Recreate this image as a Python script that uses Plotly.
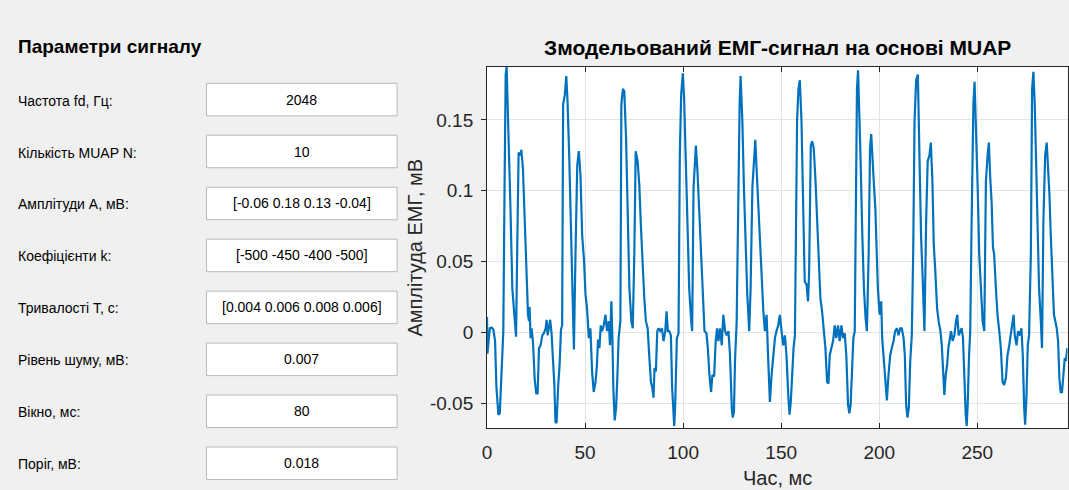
import plotly.graph_objects as go

W, H = 1069, 490

# Simulated EMG trace: time (ms) and amplitude (mV)
time_ms = [
    0.0, 0.2, 1.4, 2.4, 3.25, 4.1, 4.8, 5.8, 6.5, 7.5,
    8.3, 8.85, 9.5, 10.0, 10.9, 11.9, 12.9, 13.8, 14.8, 15.45,
    16.1, 17.0, 17.5, 18.3, 19.2, 20.0, 20.9, 21.4, 21.7, 22.2,
    22.7, 23.4, 24.3, 25.1, 25.8, 26.5, 27.3, 28.2, 29.0, 29.9,
    30.4, 30.9, 31.6, 32.2, 32.9, 33.6, 34.3, 34.9, 35.45, 36.3,
    37.0, 37.7, 38.3, 38.8, 39.7, 40.4, 41.0, 41.9, 42.7, 43.6,
    44.3, 45.1, 46.0, 46.8, 47.65, 48.5, 49.5, 50.2, 51.0, 51.9,
    52.7, 53.6, 54.4, 55.3, 56.0, 56.6, 57.3, 58.0, 58.7, 59.5,
    60.4, 61.2, 62.1, 62.7, 63.4, 63.9, 64.4, 65.1, 65.8, 66.5,
    67.1, 68.0, 68.5, 69.3, 70.0, 70.9, 71.7, 72.6, 73.6, 74.3,
    75.1, 75.8, 76.8, 77.65, 78.5, 79.3, 80.2, 81.0, 81.9, 82.7,
    83.6, 84.3, 84.9, 85.4, 86.1, 86.8, 87.5, 88.3, 89.2, 90.0,
    90.9, 91.55, 92.2, 92.9, 93.75, 94.4, 94.9, 95.45, 95.95, 96.8,
    97.65, 98.3, 99.0, 99.85, 100.5, 101.4, 102.2, 103.1, 104.1, 104.6,
    105.3, 106.5, 107.3, 108.15, 109.2, 110.0, 110.9, 111.9, 112.6, 113.4,
    114.25, 114.9, 115.8, 116.6, 117.3, 118.0, 118.8, 119.7, 120.5, 121.4,
    122.2, 123.1, 123.9, 124.8, 125.3, 125.9, 126.45, 127.3, 128.15, 128.8,
    129.3, 130.2, 131.0, 131.9, 132.7, 133.7, 134.4, 135.3, 136.1, 136.8,
    137.5, 138.3, 139.2, 140.0, 140.9, 141.7, 142.55, 143.4, 144.25, 145.1,
    145.9, 146.8, 147.6, 148.5, 149.3, 150.2, 151.0, 151.9, 152.7, 153.6,
    154.25, 154.9, 155.6, 156.3, 157.0, 157.5, 158.1, 158.8, 159.5, 160.35,
    161.2, 162.0, 162.9, 163.7, 164.25, 165.1, 165.8, 166.6, 167.5, 168.3,
    169.2, 170.0, 170.85, 171.7, 172.55, 173.4, 174.1, 174.75, 175.6, 176.45,
    177.3, 178.1, 179.0, 179.8, 180.7, 181.5, 182.4, 183.2, 184.1, 184.75,
    185.4, 186.1, 186.8, 187.5, 188.0, 188.65, 189.2, 189.8, 190.5, 191.4,
    192.2, 193.05, 193.7, 194.6, 195.3, 195.9, 196.6, 197.3, 198.0, 198.6,
    199.3, 200.2, 201.0, 201.5, 202.2, 203.05, 203.9, 204.7, 205.6, 206.4,
    207.3, 208.1, 209.0, 209.8, 210.7, 211.5, 212.4, 213.05, 213.7, 214.4,
    215.1, 215.8, 216.6, 217.3, 218.0, 218.8, 219.7, 220.5, 221.35, 222.2,
    223.05, 223.9, 224.7, 225.6, 226.3, 227.1, 227.8, 228.6, 229.5, 230.3,
    231.2, 231.9, 232.5, 233.2, 233.9, 234.6, 235.25, 235.9, 236.6, 237.45,
    238.3, 239.15, 239.8, 240.5, 241.2, 242.0, 242.7, 243.4, 244.1, 244.6,
    245.1, 245.8, 246.4, 247.1, 248.0, 248.6, 249.3, 250.2, 251.0, 251.9,
    252.7, 253.55, 254.4, 255.25, 255.9, 256.6, 257.3, 258.0, 258.6, 259.5,
    260.3, 261.2, 262.0, 262.9, 263.7, 264.6, 265.4, 266.3, 267.1, 267.95,
    268.5, 269.1, 270.0, 270.8, 271.7, 272.5, 273.2, 273.9, 274.4, 275.1,
    275.75, 276.4, 277.3, 277.95, 278.6, 279.3, 280.0, 280.7, 281.5, 282.4,
    283.0, 283.7, 284.6, 285.4, 286.1, 286.8, 287.4, 288.3, 289.1, 289.8,
    290.5, 291.2, 291.85, 292.5, 293.2, 293.9, 294.6, 295.2, 295.9,
]
emg_mv = [
    0.011, -0.015, 0.003, 0.0035, 0.002, -0.006, -0.039, -0.058, -0.057, -0.030,
    0.001, 0.090, 0.182, 0.1876, 0.149, 0.090, 0.031, 0.0125, -0.003, 0.064,
    0.127, 0.125, 0.129, 0.116, 0.078, 0.048, 0.0125, 0.008, 0.018, -0.004,
    0.003, -0.006, -0.033, -0.043, -0.043, -0.011, -0.009, -0.002, -0.0005, 0.003,
    0.009, -0.002, 0.003, 0.009, -0.0005, -0.017, -0.036, -0.063, -0.064, -0.037,
    -0.023, 0.002, 0.005, 0.161, 0.168, 0.181, 0.165, 0.125, 0.071, 0.010,
    -0.012, 0.055, 0.118, 0.128, 0.111, 0.069, 0.050, 0.027, 0.017, -0.004,
    0.003, -0.028, -0.042, -0.035, -0.024, -0.005, -0.011, 0.005, 0.001, 0.005,
    0.0125, 0.001, 0.008, -0.009, 0.022, -0.002, -0.039, -0.062, -0.053, -0.030,
    -0.004, 0.008, 0.161, 0.172, 0.170, 0.137, 0.078, 0.031, 0.008, 0.003,
    0.055, 0.128, 0.121, 0.104, 0.074, 0.045, 0.024, 0.008, 0.003, -0.016,
    -0.035, -0.039, -0.046, -0.025, -0.0275, 0.001, 0.003, 0.001, 0.003, -0.006,
    0.001, 0.015, 0.001, 0.001, -0.002, -0.039, -0.056, -0.066, -0.051, -0.004,
    -0.0005, 0.125, 0.168, 0.183, 0.165, 0.114, 0.069, 0.031, 0.008, 0.001,
    0.102, 0.132, 0.114, 0.085, 0.048, 0.022, 0.001, -0.0005, -0.011, -0.030,
    -0.042, -0.030, -0.031, -0.006, 0.003, -0.006, 0.003, -0.009, 0.0125, 0.001,
    -0.002, 0.001, -0.016, -0.053, -0.060, -0.056, -0.020, 0.008, 0.102, 0.161,
    0.181, 0.149, 0.102, 0.055, 0.027, 0.001, 0.031, 0.102, 0.125, 0.136,
    0.114, 0.090, 0.055, 0.031, 0.015, 0.001, 0.0125, -0.020, -0.049, -0.030,
    -0.016, -0.004, 0.001, 0.005, 0.0125, 0.003, -0.009, -0.002, -0.016, -0.044,
    -0.058, -0.049, -0.0275, -0.011, -0.002, 0.055, 0.149, 0.172, 0.178, 0.149,
    0.090, 0.036, 0.034, 0.022, 0.043, 0.132, 0.135, 0.130, 0.107, 0.078,
    0.048, 0.024, 0.015, 0.001, -0.011, -0.035, -0.036, -0.016, -0.011, -0.006,
    0.005, -0.004, 0.005, -0.006, 0.005, -0.004, -0.0005, -0.016, -0.051, -0.057,
    -0.051, -0.0275, -0.004, 0.001, 0.078, 0.172, 0.185, 0.161, 0.121, 0.067,
    0.031, 0.010, 0.001, 0.055, 0.130, 0.140, 0.118, 0.104, 0.088, 0.055,
    0.031, 0.0125, 0.022, -0.004, -0.016, -0.035, -0.048, -0.030, -0.016, -0.011,
    -0.006, 0.001, 0.003, -0.002, 0.003, 0.003, -0.004, -0.016, -0.051, -0.060,
    -0.053, -0.020, -0.002, 0.055, 0.149, 0.178, 0.182, 0.125, 0.067, 0.036,
    0.001, 0.078, 0.121, 0.125, 0.134, 0.107, 0.062, 0.043, 0.017, 0.008,
    0.001, -0.009, -0.0275, -0.044, -0.030, -0.023, -0.011, -0.006, 0.001, -0.006,
    -0.002, 0.008, 0.0125, -0.002, 0.001, 0.003, -0.004, -0.039, -0.058, -0.066,
    -0.051, -0.016, 0.001, 0.078, 0.161, 0.177, 0.149, 0.102, 0.055, 0.027,
    0.008, 0.001, 0.107, 0.125, 0.134, 0.109, 0.092, 0.060, 0.055, 0.031,
    0.0125, 0.001, -0.011, -0.035, -0.037, -0.032, -0.016, -0.009, -0.002, 0.008,
    0.0125, -0.002, -0.009, 0.001, -0.002, 0.003, -0.016, -0.053, -0.065, -0.044,
    -0.009, -0.002, 0.055, 0.172, 0.184, 0.161, 0.118, 0.078, 0.031, 0.008,
    -0.011, 0.078, 0.125, 0.134, 0.118, 0.097, 0.071, 0.043, 0.0125, 0.008,
    0.003, -0.006, -0.032, -0.042, -0.042, -0.030, -0.018, -0.020, -0.011,
]
assert len(time_ms) == len(emg_mv)

# Signal parameter panel
param_labels = [
    "Частота fd, Гц:",
    "Кількість MUAP N:",
    "Амплітуди A, мВ:",
    "Коефіцієнти k:",
    "Тривалості T, с:",
    "Рівень шуму, мВ:",
    "Вікно, мс:",
    "Поріг, мВ:",
]
param_values = [
    "2048",
    "10",
    "[-0.06 0.18 0.13 -0.04]",
    "[-500 -450 -400 -500]",
    "[0.004 0.006 0.008 0.006]",
    "0.007",
    "80",
    "0.018",
]

x_ticks = [0, 50, 100, 150, 200, 250]
y_ticks = [-0.05, 0, 0.05, 0.1, 0.15]
y_tick_text = ["-0.05", "0", "0.05", "0.1", "0.15"]

FONT = "Liberation Sans, Arial, sans-serif"
AX_COLOR = "#262626"


def fx(px):
    return px / W


def fy(py):
    return 1 - py / H


# axes box in pixels
AX_L, AX_R, AX_T, AX_B = 484.3, 1067.5, 66.7, 428.3

fig = go.Figure()
fig.add_trace(go.Scatter(
    x=time_ms, y=emg_mv, mode="lines",
    line=dict(color="#0072BD", width=2.2),
    hoverinfo="x+y", showlegend=False,
))

shapes = []
annotations = []

# panel heading
annotations.append(dict(
    x=fx(11), y=fy(46), xref="paper", yref="paper",
    text="<b>Параметри сигналу</b>", showarrow=False,
    xanchor="left", yanchor="middle",
    font=dict(family=FONT, size=19, color="#000000"),
))

BOX_L, BOX_R, BOX_TOP0, BOX_STEP, BOX_H = 202.5, 394.0, 83.3, 51.96, 32.5
for i, (lab, val) in enumerate(zip(param_labels, param_values)):
    top = BOX_TOP0 + i * BOX_STEP
    mid = top + BOX_H / 2
    shapes.append(dict(
        type="rect", xref="paper", yref="paper",
        x0=fx(BOX_L), x1=fx(BOX_R), y0=fy(top + BOX_H), y1=fy(top),
        line=dict(color="#b9b9b9", width=1), fillcolor="#ffffff", layer="below",
    ))
    annotations.append(dict(
        x=fx(11), y=fy(mid + 1), xref="paper", yref="paper",
        text=lab, showarrow=False, xanchor="left", yanchor="middle",
        font=dict(family=FONT, size=14, color="#000000"),
    ))
    annotations.append(dict(
        x=fx((BOX_L + BOX_R) / 2), y=fy(mid), xref="paper", yref="paper",
        text=val, showarrow=False, xanchor="center", yanchor="middle",
        font=dict(family=FONT, size=14, color="#000000"),
    ))

# plot title and axis titles
annotations.append(dict(
    x=fx((AX_L + AX_R) / 2), y=fy(48), xref="paper", yref="paper",
    text="<b>Змодельований ЕМГ-сигнал на основі MUAP</b>", showarrow=False,
    xanchor="center", yanchor="middle",
    font=dict(family=FONT, size=21, color="#000000"),
))
annotations.append(dict(
    x=fx((AX_L + AX_R) / 2), y=fy(478), xref="paper", yref="paper",
    text="Час, мс", showarrow=False, xanchor="center", yanchor="middle",
    font=dict(family=FONT, size=20, color=AX_COLOR),
))
annotations.append(dict(
    x=fx(412), y=fy((AX_T + AX_B) / 2), xref="paper", yref="paper",
    text="Амплітуда ЕМГ, мВ", showarrow=False, textangle=-90,
    xanchor="center", yanchor="middle",
    font=dict(family=FONT, size=20, color=AX_COLOR),
))

tick_font = dict(family=FONT, size=19, color=AX_COLOR)

fig.update_layout(
    width=W, height=H,
    margin=dict(l=0, r=0, t=0, b=0),
    paper_bgcolor="#f0f0f0",
    plot_bgcolor="#ffffff",
    shapes=shapes,
    annotations=annotations,
    xaxis=dict(
        domain=[fx(AX_L), fx(AX_R)],
        range=[0, 296],
        tickvals=x_ticks, ticktext=[str(v) for v in x_ticks],
        ticks="inside", ticklen=5, tickwidth=1, tickcolor=AX_COLOR,
        showline=True, linecolor=AX_COLOR, linewidth=1, mirror="ticks",
        showgrid=True, gridcolor="#e3e3e3", gridwidth=1,
        zeroline=False, tickfont=tick_font, ticklabelstandoff=7,
    ),
    yaxis=dict(
        domain=[fy(AX_B), fy(AX_T)],
        range=[-0.0676, 0.1876],
        tickvals=y_ticks, ticktext=y_tick_text,
        ticks="outside", ticklen=5, tickwidth=1, tickcolor=AX_COLOR,
        showline=True, linecolor=AX_COLOR, linewidth=1, mirror=True,
        showgrid=True, gridcolor="#e3e3e3", gridwidth=1,
        zeroline=False, tickfont=tick_font, ticklabelstandoff=4,
    ),
    yaxis2=dict(
        overlaying="y", side="right", anchor="x",
        range=[-0.0676, 0.1876], tickvals=y_ticks,
        ticks="inside", ticklen=5, tickwidth=1, tickcolor=AX_COLOR,
        showticklabels=False, showgrid=False, showline=False, zeroline=False,
    ),
)

fig.write_html("out.html")
